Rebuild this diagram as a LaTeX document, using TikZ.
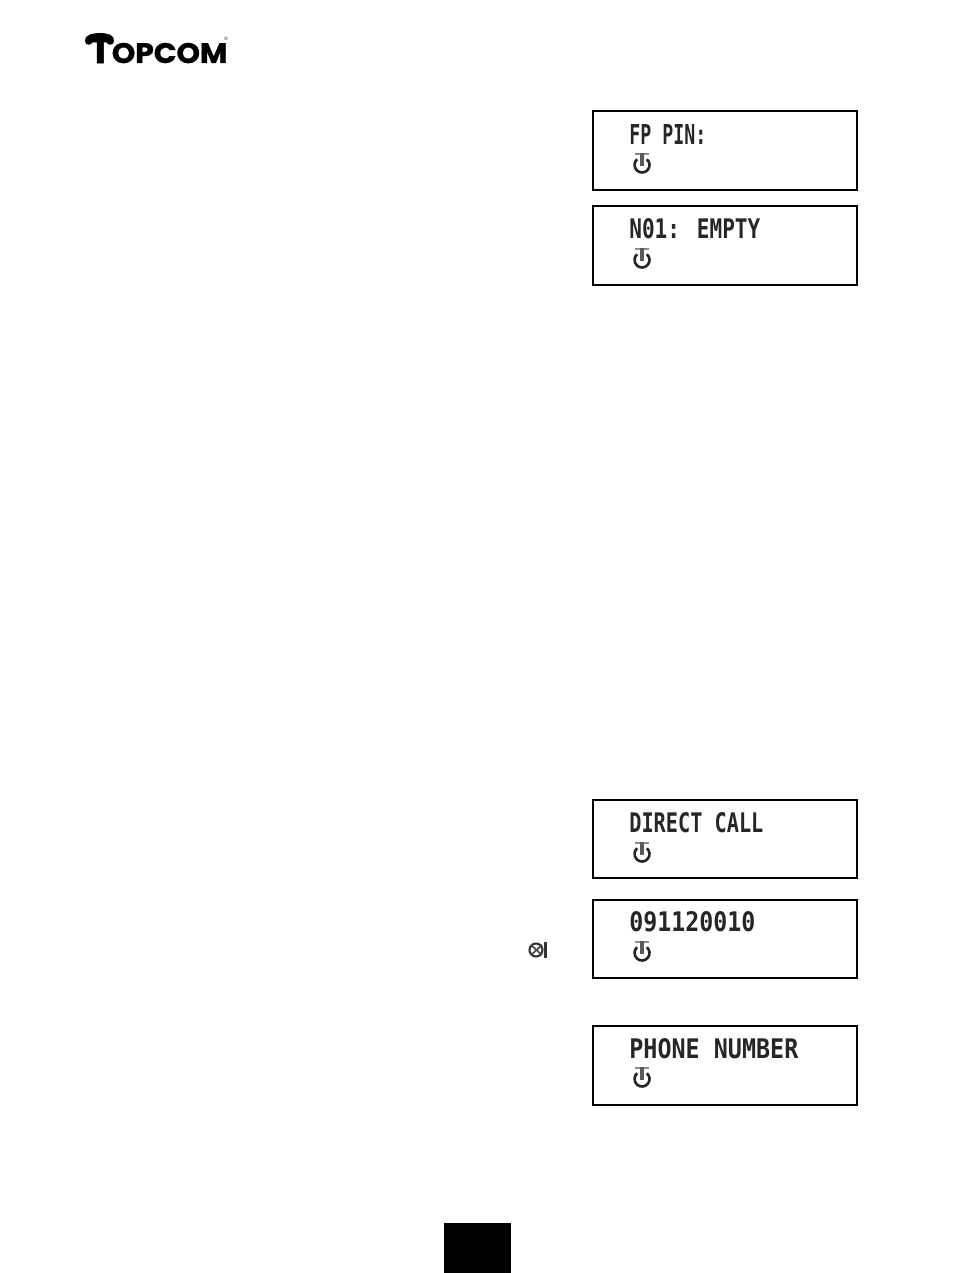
\documentclass[tikz,border=0pt]{standalone}
\usepackage{graphicx}
\usepackage{fontspec}
\newfontfamily\lcdfont{DejaVu Sans Mono}
\newfontfamily\logofont{Poppins}[BoldFont=Poppins Bold,BoldFeatures={FakeBold=1.2}]
\newlength{\pxu}
\setlength{\pxu}{0.02cm}
\newcommand{\lcdfit}[2]{\resizebox{#1\pxu}{20\pxu}{\lcdfont\bfseries #2}}
\newcommand{\logofit}[3]{\resizebox{#1\pxu}{#2\pxu}{\logofont\bfseries #3}}
\tikzset{
  screen/.style={draw=black, line width=1.2pt, fill=white},
  lcdtext/.style={anchor=west, inner sep=0pt, text=black!85},
  logotext/.style={anchor=south west, inner sep=0pt, text=black},
  powericon/.pic={
    \draw[black!85, line width=1.5pt] (0,-1) ++(-50:7.5) arc[start angle=-50, end angle=230, radius=7.5];
    \draw[black!45, line width=1.3pt] (-7,-12) -- (7,-12);
    \draw[black!65, line width=2pt] (0,-13) -- (0,0);
  }
}
\begin{document}
\begin{tikzpicture}[x=0.02cm, y=-0.02cm]
  \useasboundingbox (0,0) rectangle (954,1273);
  % logo
  \node[logotext] (logoT) at (88.5,63.5) {\logofit{23}{26}{T}};
  \node[logotext] (logoname) at (111.5,63.5) {\logofit{115.5}{20}{OPCOM}};
  \fill[black] (85,41) .. controls (84,35) and (93,33) .. (100,33)
    .. controls (107,33) and (115,35) .. (114,41)
    .. controls (114,46) and (107,46) .. (106,41)
    .. controls (102,40) and (98,40) .. (93,41)
    .. controls (92,46) and (85,46) .. (85,41) -- cycle;
  \node[font=\tiny, scale=0.55, inner sep=0pt] (logoreg) at (226,39) {\textregistered};
  % displays
  \draw[screen] (593,111) rectangle (857,190);
  \draw[screen] (593,206) rectangle (857,285);
  \draw[screen] (593,800) rectangle (857,878);
  \draw[screen] (593,900) rectangle (857,978);
  \draw[screen] (593,1026) rectangle (857,1105);
  \node[lcdtext] (pin) at (629,134.5) {\lcdfit{77}{FP PIN:}};
  \node[lcdtext] (empty) at (629,229) {\lcdfit{131}{N01: EMPTY}};
  \node[lcdtext] (direct) at (629,823) {\lcdfit{134}{DIRECT CALL}};
  \node[lcdtext] (digits) at (629,922) {\lcdfit{126}{091120010}};
  \node[lcdtext] (phone) at (629,1049) {\lcdfit{169}{PHONE NUMBER}};
  \pic at (642,166) {powericon};
  \pic at (642,261) {powericon};
  \pic at (642,855) {powericon};
  \pic at (642,954) {powericon};
  \pic at (642,1080) {powericon};
  % small key symbol
  \draw[black!80, line width=1.2pt] (536,950) circle[radius=6.5];
  \draw[black!70, line width=1pt] (531,945) -- (542,955);
  \draw[black!70, line width=1pt] (531,955) -- (542,945);
  \fill[black!80] (544,942) rectangle (547,958);
  % page number block
  \fill[black] (444,1223) rectangle (511,1273);
\end{tikzpicture}
\end{document}
